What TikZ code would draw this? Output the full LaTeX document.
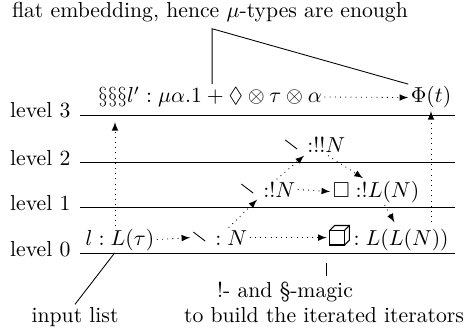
\documentclass[tikz,border=0pt]{standalone}
\usepackage{amssymb}
\usetikzlibrary{arrows}

\newcommand{\cubeglyph}{\tikz[baseline=0pt,line width=0.5pt]{%
  \draw (0,0) rectangle (0.68em,0.68em);
  \draw (0,0.68em) -- (0.22em,0.9em) -- (0.9em,0.9em) -- (0.9em,0.22em) -- (0.68em,0);
  \draw (0.68em,0.68em) -- (0.9em,0.9em);}}
\newcommand{\stick}{\tikz[baseline=0pt,line width=0.4pt]{%
  \draw (0,0.6em) -- (0.55em,0.18em);}}

\tikzset{
  lift/.style={dotted,-latex},
  lvl/.style={anchor=base east},
  term/.style={anchor=base,inner sep=1pt}
}

\begin{document}
\begin{tikzpicture}[x=0.0162cm, y=-0.0162cm, every node/.style={inner sep=1pt}]
  \useasboundingbox (0,0) rectangle (466,331);

  % levels
  \foreach \lv/\y in {0/253,1/207,2/162,3/115} {
    \draw (80,\y) -- (455,\y);
    \node[lvl] (lev\lv) at (73,\y+3) {level \lv};
  }

  % level 3
  \node[term] (flat) at (210,18) {flat embedding, hence $\mu$-types are enough};
  \node[term] (ltyp) at (210,103) {$\S\S\S l' : \mu\alpha.1 + \Diamond\otimes\tau\otimes\alpha$};
  \node[term] (phi) at (431,103) {$\Phi(t)$};
  \coordinate (fork) at ([xshift=1pt,yshift=-1.7pt]flat.south);
  \draw (ltyp.north -| fork) -- (fork) -- (phi.north west);
  \draw[lift] (ltyp.east) -- (phi.west);

  % level 2 and 1
  \node[term] (nt) at (315,153) {\stick$\;\,{:}!!N$};
  \node[term] (no) at (268,197) {\stick$\;\,{:}!N$};
  \node[term] (lo) at (376,197) {$\Box\;{:}!L(N)$};
  \draw[lift] (no.east) -- (lo.west);

  % level 0
  \node[term] (inl) at (120,245) {$l : L(\tau)$};
  \node[term] (nz) at (220,245) {\stick$\;\,: N$};
  \node[term] (cz) at (389,245) {\cubeglyph$\,: L(L(N))$};
  \draw[lift] (inl.east) -- (nz.west);
  \draw[lift] (nz.east) -- (nz.east -| cz.west);

  % iteration steps
  \draw[lift] ([xshift=4pt]nz.north) -- ([xshift=-5pt]no.south);
  \draw[lift] ([xshift=4pt]no.north) -- ([xshift=-5pt]nt.south);
  \draw[lift] ([xshift=6pt]nt.south) -- ([xshift=-6pt]lo.north);
  \draw[lift] ([xshift=4pt]lo.south) -- ([xshift=2.5pt]cz.north);

  % up to level 3
  \coordinate (up3) at (115,122);
  \draw[lift] (inl.north -| up3) -- (up3);
  \draw[lift] (phi.south |- cz.north) -- (phi.south);

  % annotations
  \node[term] (inlist) at (75,322) {input list};
  \node[term] (magic) at (285,297) {!- and \S-magic};
  \node[term] (build) at (324,322) {to build the iterated iterators};
  \draw (inlist.north) -- ([xshift=-2.5pt]inl.south);
  \draw ([yshift=1.5pt]magic.north -| cz.west) -- ([yshift=-4.5pt]cz.south west);
\end{tikzpicture}
\end{document}
